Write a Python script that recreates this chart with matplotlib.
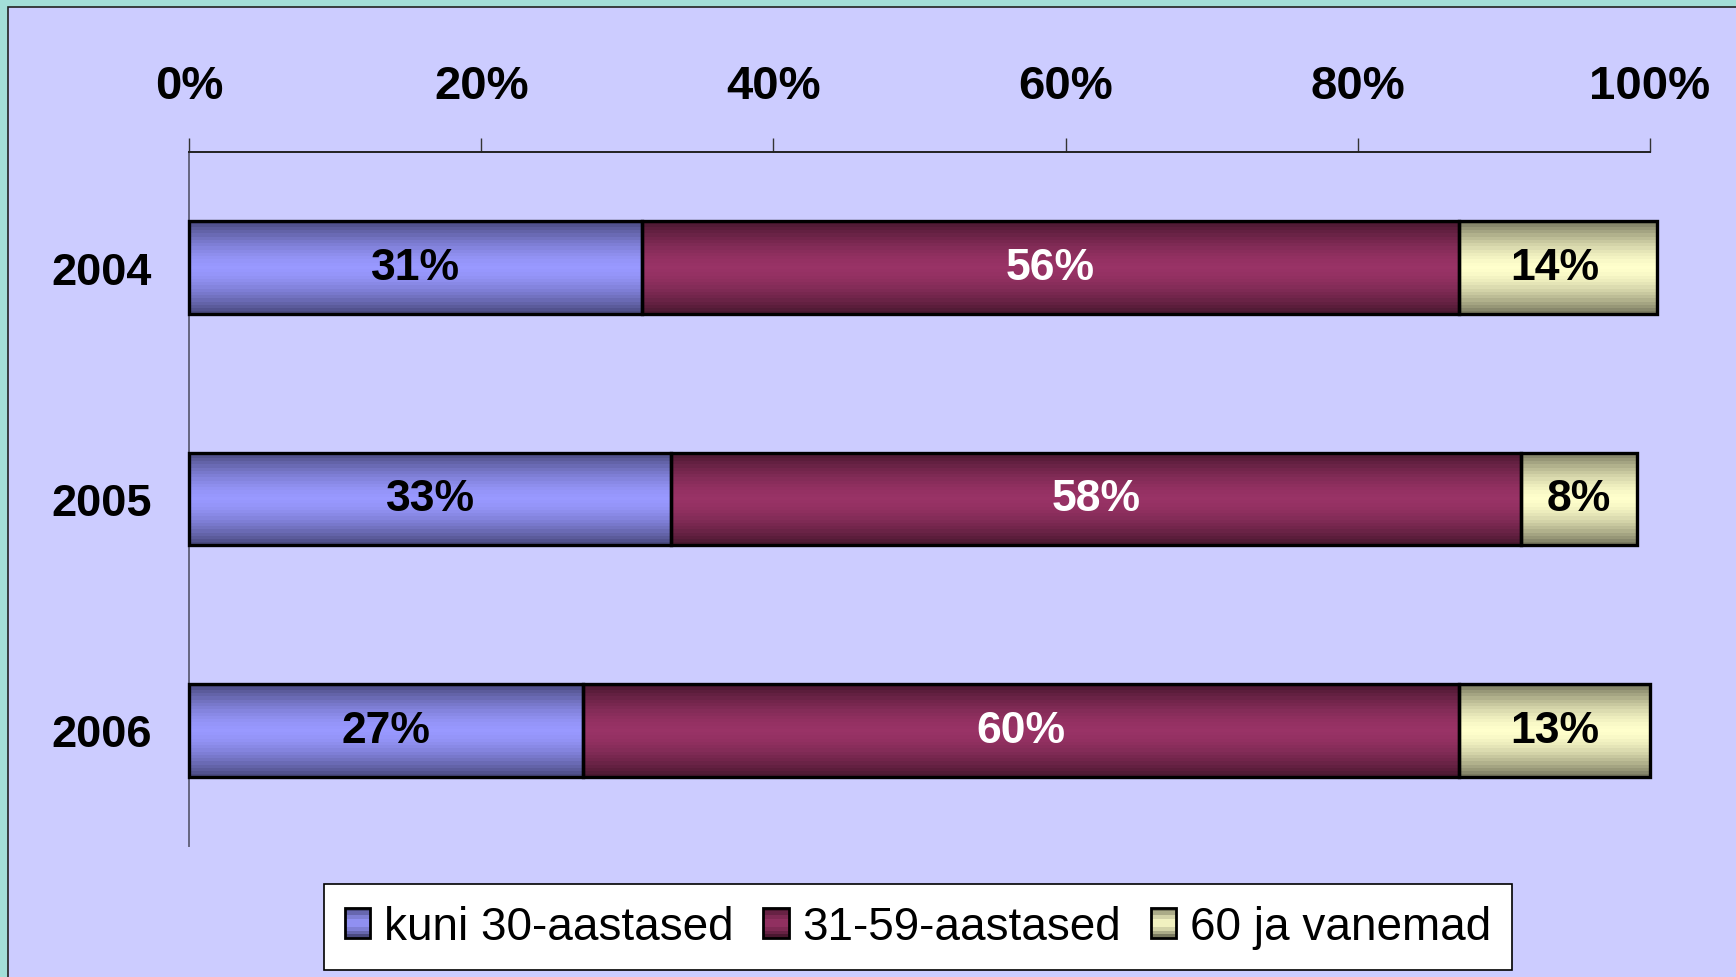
import numpy as np
import matplotlib
matplotlib.use("Agg")
import matplotlib.pyplot as plt
from matplotlib.patches import Rectangle, Patch
from matplotlib.legend_handler import HandlerBase
from matplotlib.colors import to_rgb
from matplotlib.ticker import FuncFormatter

# ---- data ----
years = ["2004", "2005", "2006"]
series_names = ["kuni 30-aastased", "31-59-aastased", "60 ja vanemad"]
kuni30 = [31.0, 33.0, 27.0]
vahemik = [55.9, 58.2, 59.9]
vanemad = [13.6, 7.9, 13.1]
xticks = [0, 20, 40, 60, 80, 100]

# ---- styles ----
light_cols = ["#9999FF", "#993366", "#FFFFCC"]
dark_cols = ["#4A4A80", "#4A1830", "#7A7A60"]
text_cols = ["black", "white", "black"]

W, H = 1736, 978
plt.rcParams["font.family"] = ["Liberation Sans", "DejaVu Sans"]
fig = plt.figure(figsize=(W / 100, H / 100), dpi=100, facecolor="#A3DED8")

# lavender panel
fig.patches.append(Rectangle((8 / W, -0.01), 1.02, 1 - 8 / H + 0.01, transform=fig.transFigure,
                             facecolor="#CCCCFF", edgecolor="#222222", lw=1.2, zorder=-5))

ax = fig.add_axes([189 / W, 1 - 847 / H, (1650 - 189) / W, (847 - 153) / H])
ax.set_facecolor("none")
ax.set_zorder(2)


def gradient(dark, light, n=64, steps=14):
    d = np.array(to_rgb(dark))
    l = np.array(to_rgb(light))
    t = np.abs(np.linspace(-1, 1, n))
    t = np.round(t * steps) / steps
    w = t ** 1.6
    arr = l[None, :] * (1 - w[:, None]) + d[None, :] * w[:, None]
    return arr[:, None, :]


ypos = np.arange(len(years))
left = np.zeros(len(years))
series = [kuni30, vahemik, vanemad]
for i, vals in enumerate(series):
    cont = ax.barh(ypos, vals, left=left, height=0.4, facecolor="none",
                   edgecolor="black", linewidth=2.4, zorder=3, clip_on=False)
    grad = gradient(dark_cols[i], light_cols[i])
    for p in cont.patches:
        x0, y0 = p.get_x(), p.get_y()
        im = ax.imshow(grad, extent=(x0, x0 + p.get_width(), y0, y0 + p.get_height()),
                       aspect="auto", interpolation="nearest", zorder=2)
        im.set_clip_path(p)
    ax.bar_label(cont, labels=[f"{round(v)}%" for v in vals], label_type="center",
                 color=text_cols[i], fontsize=32, fontweight="bold", zorder=5)
    left = left + np.array(vals)

ax.set_xlim(0, 100)
ax.set_ylim(len(years) - 0.5, -0.5)
ax.set_aspect("auto")

ax.xaxis.tick_top()
ax.set_xticks(xticks)
ax.xaxis.set_major_formatter(FuncFormatter(lambda v, p: f"{v:.0f}%"))
ax.tick_params(axis="x", direction="out", length=10, width=1.0, color="#333333",
               pad=22, labelsize=34)
for lb in ax.get_xticklabels():
    lb.set_fontweight("bold")
ax.set_yticks(ypos)
ax.set_yticklabels(years)
ax.tick_params(axis="y", length=0, pad=27, labelsize=32.5)
for lb in ax.get_yticklabels():
    lb.set_fontweight("bold")

for s in ["bottom", "right"]:
    ax.spines[s].set_visible(False)
ax.spines["top"].set_color("#222222")
ax.spines["top"].set_linewidth(1.4)
ax.spines["left"].set_color("#666680")
ax.spines["left"].set_linewidth(1.4)


class GradHandler(HandlerBase):
    def __init__(self, dark, light):
        super().__init__()
        self.dark, self.light = dark, light

    def create_artists(self, legend, orig_handle, xdescent, ydescent, width, height,
                       fontsize, trans):
        arts = []
        n = 8
        g = gradient(self.dark, self.light, n=n, steps=4)[:, 0, :]
        x0, y0 = -xdescent, -ydescent
        for k in range(n):
            r = Rectangle((x0, y0 + height * k / n), width, height / n, facecolor=g[k],
                          edgecolor="none", transform=trans)
            arts.append(r)
        arts.append(Rectangle((x0, y0), width, height, facecolor="none",
                              edgecolor="black", lw=2.0, transform=trans))
        return arts


handles = [Patch(facecolor=c) for c in light_cols]
hmap = {h: GradHandler(dark_cols[i], light_cols[i]) for i, h in enumerate(handles)}
leg = fig.legend(handles, series_names, loc="center", bbox_to_anchor=(918 / W, 1 - 928 / H),
                 ncol=3, fontsize=33, handler_map=hmap, handlelength=0.55, handleheight=0.65,
                 handletextpad=0.3, columnspacing=0.65, borderpad=0.45, borderaxespad=0,
                 frameon=True, fancybox=False, shadow=False, edgecolor="black",
                 facecolor="white", framealpha=1.0)
leg.get_frame().set_linewidth(1.2)

fig.savefig("out.png", dpi=100, facecolor=fig.get_facecolor())
